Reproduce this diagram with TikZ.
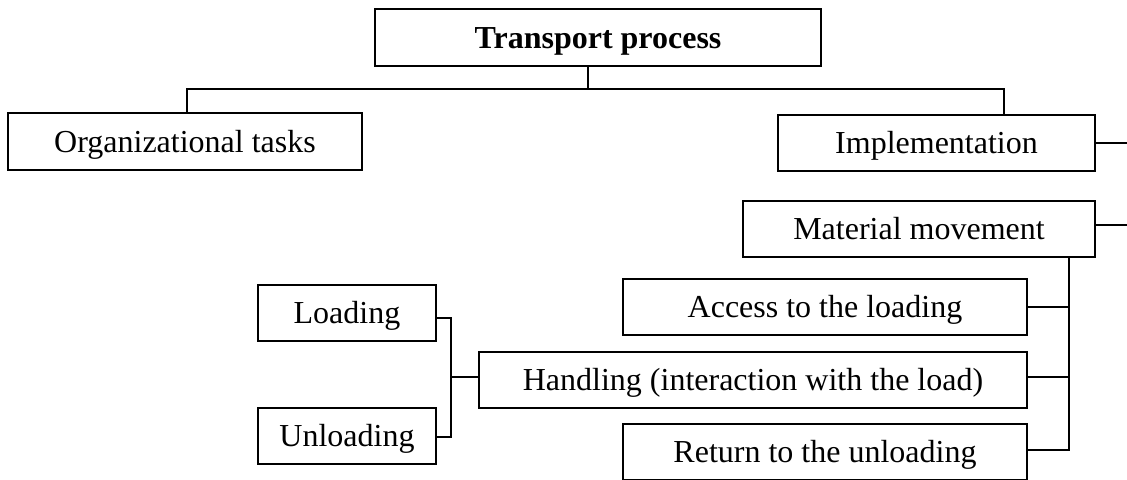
\documentclass[tikz,border=0pt]{standalone}
\usepackage{fontspec}
\setmainfont{Liberation Serif}
\usetikzlibrary{positioning}

\tikzset{
  blk/.style={draw, line width=1.5pt, rectangle, inner sep=0pt, minimum height=42pt,
    text height=21.4pt, text depth=5.2pt, font=\fontsize{24}{28}\selectfont},
  link/.style={line width=1.5pt}
}

\begin{document}
\begin{tikzpicture}[x=0.75pt, y=-0.75pt]
      \useasboundingbox (0,0) rectangle (1127,479);

      \node[blk, font=\fontsize{24}{28}\selectfont\bfseries, minimum width=334.5pt, minimum height=42.75pt] (tp) at (598, 37.5) {Transport process};
      \node[blk, minimum width=265.5pt, minimum height=42.75pt] (org) at (185, 141.5) {Organizational tasks};
      \node[blk, minimum width=237.75pt] (impl) at (936.5, 143) {Implementation};
      \node[blk, minimum width=264pt] (mat) at (919, 229) {Material movement};

      \node[blk, minimum width=303pt] (acc) at (825, 307) {Access to the loading};
      \node[blk, minimum width=411pt] (hand) at (753, 379.5) {Handling (interaction with the load)};
      \node[blk, minimum width=303pt] (ret) at (825, 452) {Return to the unloading};

      \node[blk, minimum width=133.5pt] (load) at (347, 313) {Loading};
      \node[blk, minimum width=133.5pt] (unload) at (347, 435.5) {Unloading};

      \coordinate (split) at (588, 89);
      \coordinate (orgtop) at (187, 113);
      \coordinate (impltop) at (1004, 115);
      \coordinate (bus) at (1069, 257);
      \coordinate (fork) at (451, 377);
      \coordinate (out1) at (1127, 143);
      \coordinate (out2) at (1127, 225);

      % top level
      \draw[link] (tp.south -| split) -- (split);
      \draw[link] (orgtop) |- (split) -| (impltop);
      \draw[link] (impl.east) -- (out1);
      \draw[link] (mat.east |- out2) -- (out2);

      % material movement
      \draw[link] (bus) |- ([yshift=1.5pt]ret.east);
      \draw[link] (acc.east) -- (acc.east -| bus);
      \draw[link] (fork -| hand.east) -- (fork -| bus);

      % loading / unloading
      \draw[link] ([yshift=-3.75pt]load.east) -| (fork) |- ([yshift=-1.1pt]unload.east);
      \draw[link] (fork) -- (fork -| hand.west);
\end{tikzpicture}
\end{document}
